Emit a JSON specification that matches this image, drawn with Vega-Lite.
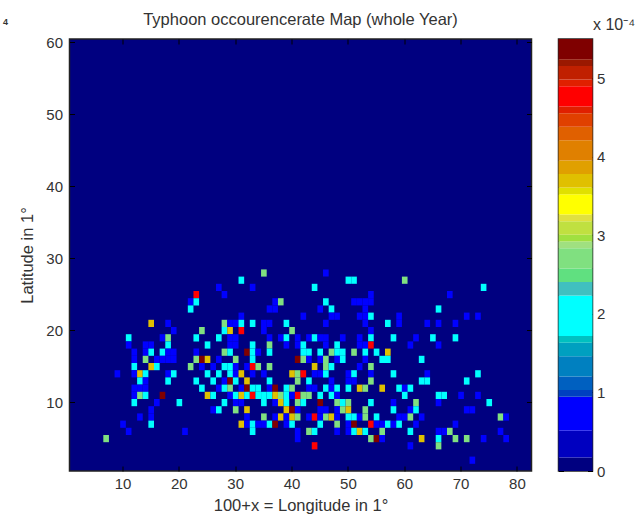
{"$schema":"https://vega.github.io/schema/vega-lite/v6.json","background":"white","padding":{"left":2.5,"top":10,"right":0,"bottom":0},"spacing":23,"title":{"text":"4","anchor":"start","frame":"bounds","fontSize":9,"font":"Liberation Sans","fontWeight":"bold","color":"#333","offset":2,"dx":-16,"dy":18},"config":{"axis":{"grid":false,"labelFont":"Liberation Sans","titleFont":"Liberation Sans","titleFontWeight":"normal","labelFontSize":15,"titleFontSize":16.5,"labelColor":"#333","titleColor":"#333","tickColor":"#000","tickSize":-5,"labelPadding":12,"domain":false,"zindex":1},"title":{"font":"Liberation Sans","fontWeight":"normal","color":"#333"}},"datasets":{"cells":[
{"lon":35,"lat":28,"v":2.7},{"lon":46,"lat":28,"v":0.75},
{"lon":31,"lat":27,"v":1.9},{"lon":50,"lat":27,"v":1.9},{"lon":51,"lat":27,"v":1.9},{"lon":60,"lat":27,"v":2.7},
{"lon":27,"lat":26,"v":0.75},{"lon":33,"lat":26,"v":0.75},{"lon":44,"lat":26,"v":1.9},{"lon":74,"lat":26,"v":1.9},
{"lon":23,"lat":25,"v":4.75},{"lon":28,"lat":25,"v":0.75},{"lon":54,"lat":25,"v":0.75},{"lon":68,"lat":25,"v":0.75},
{"lon":22,"lat":24,"v":0.75},{"lon":23,"lat":24,"v":1.9},{"lon":37,"lat":24,"v":0.75},{"lon":38,"lat":24,"v":2.7},{"lon":46,"lat":24,"v":1.9},{"lon":51,"lat":24,"v":0.75},{"lon":52,"lat":24,"v":0.75},{"lon":53,"lat":24,"v":0.75},{"lon":54,"lat":24,"v":0.75},
{"lon":22,"lat":23,"v":1.9},{"lon":36,"lat":23,"v":0.75},{"lon":37,"lat":23,"v":0.75},{"lon":45,"lat":23,"v":0.75},{"lon":47,"lat":23,"v":1.9},{"lon":53,"lat":23,"v":0.75},{"lon":66,"lat":23,"v":1.9},
{"lon":31,"lat":22,"v":0.75},{"lon":42,"lat":22,"v":0.75},{"lon":47,"lat":22,"v":0.75},{"lon":48,"lat":22,"v":0.75},{"lon":52,"lat":22,"v":0.75},{"lon":53,"lat":22,"v":0.75},{"lon":54,"lat":22,"v":1.9},{"lon":59,"lat":22,"v":0.75},{"lon":71,"lat":22,"v":0.75},{"lon":73,"lat":22,"v":0.75},
{"lon":15,"lat":21,"v":3.7},{"lon":18,"lat":21,"v":0.75},{"lon":28,"lat":21,"v":2.7},{"lon":29,"lat":21,"v":0.75},{"lon":30,"lat":21,"v":0.75},{"lon":31,"lat":21,"v":1.9},{"lon":33,"lat":21,"v":1.9},{"lon":35,"lat":21,"v":0.75},{"lon":36,"lat":21,"v":0.75},{"lon":39,"lat":21,"v":1.9},{"lon":46,"lat":21,"v":0.75},{"lon":53,"lat":21,"v":0.75},{"lon":57,"lat":21,"v":1.9},{"lon":59,"lat":21,"v":0.75},{"lon":64,"lat":21,"v":0.75},{"lon":66,"lat":21,"v":0.75},{"lon":69,"lat":21,"v":0.75},
{"lon":19,"lat":20,"v":0.75},{"lon":24,"lat":20,"v":2.7},{"lon":28,"lat":20,"v":1.9},{"lon":29,"lat":20,"v":3.7},{"lon":31,"lat":20,"v":4.75},{"lon":35,"lat":20,"v":0.75},{"lon":40,"lat":20,"v":2.7},{"lon":54,"lat":20,"v":0.75},
{"lon":11,"lat":19,"v":1.9},{"lon":17,"lat":19,"v":0.75},{"lon":18,"lat":19,"v":2.7},{"lon":23,"lat":19,"v":1.9},{"lon":27,"lat":19,"v":1.9},{"lon":29,"lat":19,"v":0.75},{"lon":30,"lat":19,"v":0.75},{"lon":36,"lat":19,"v":0.75},{"lon":38,"lat":19,"v":0.75},{"lon":39,"lat":19,"v":1.9},{"lon":41,"lat":19,"v":0.75},{"lon":43,"lat":19,"v":0.75},{"lon":44,"lat":19,"v":1.9},{"lon":45,"lat":19,"v":0.75},{"lon":46,"lat":19,"v":0.75},{"lon":49,"lat":19,"v":0.75},{"lon":52,"lat":19,"v":0.75},{"lon":54,"lat":19,"v":1.9},{"lon":58,"lat":19,"v":1.9},{"lon":62,"lat":19,"v":0.75},{"lon":65,"lat":19,"v":1.9},{"lon":69,"lat":19,"v":1.9},
{"lon":11,"lat":18,"v":0.75},{"lon":14,"lat":18,"v":0.75},{"lon":15,"lat":18,"v":0.75},{"lon":18,"lat":18,"v":1.9},{"lon":25,"lat":18,"v":1.9},{"lon":29,"lat":18,"v":0.75},{"lon":30,"lat":18,"v":0.75},{"lon":33,"lat":18,"v":1.9},{"lon":36,"lat":18,"v":2.7},{"lon":39,"lat":18,"v":0.75},{"lon":41,"lat":18,"v":0.75},{"lon":42,"lat":18,"v":1.9},{"lon":46,"lat":18,"v":0.75},{"lon":48,"lat":18,"v":1.9},{"lon":52,"lat":18,"v":0.75},{"lon":53,"lat":18,"v":0.75},{"lon":54,"lat":18,"v":4.75},{"lon":61,"lat":18,"v":0.75},{"lon":66,"lat":18,"v":0.75},
{"lon":12,"lat":17,"v":0.75},{"lon":14,"lat":17,"v":0.75},{"lon":15,"lat":17,"v":1.9},{"lon":17,"lat":17,"v":1.9},{"lon":18,"lat":17,"v":0.75},{"lon":19,"lat":17,"v":0.75},{"lon":23,"lat":17,"v":0.75},{"lon":28,"lat":17,"v":2.7},{"lon":29,"lat":17,"v":1.9},{"lon":32,"lat":17,"v":5.4},{"lon":33,"lat":17,"v":1.9},{"lon":34,"lat":17,"v":0.75},{"lon":36,"lat":17,"v":1.9},{"lon":42,"lat":17,"v":1.9},{"lon":43,"lat":17,"v":1.9},{"lon":45,"lat":17,"v":1.9},{"lon":47,"lat":17,"v":2.7},{"lon":48,"lat":17,"v":1.9},{"lon":49,"lat":17,"v":1.9},{"lon":51,"lat":17,"v":2.7},{"lon":53,"lat":17,"v":1.9},{"lon":55,"lat":17,"v":1.9},{"lon":57,"lat":17,"v":3.7},
{"lon":12,"lat":16,"v":0.75},{"lon":14,"lat":16,"v":2.7},{"lon":16,"lat":16,"v":0.75},{"lon":17,"lat":16,"v":0.75},{"lon":18,"lat":16,"v":0.75},{"lon":19,"lat":16,"v":0.75},{"lon":23,"lat":16,"v":2.7},{"lon":24,"lat":16,"v":5.4},{"lon":25,"lat":16,"v":3.7},{"lon":27,"lat":16,"v":0.75},{"lon":30,"lat":16,"v":2.7},{"lon":33,"lat":16,"v":1.9},{"lon":41,"lat":16,"v":5.4},{"lon":42,"lat":16,"v":2.7},{"lon":43,"lat":16,"v":0.75},{"lon":45,"lat":16,"v":0.75},{"lon":46,"lat":16,"v":2.7},{"lon":48,"lat":16,"v":0.75},{"lon":49,"lat":16,"v":1.9},{"lon":53,"lat":16,"v":0.75},{"lon":56,"lat":16,"v":1.9},{"lon":57,"lat":16,"v":1.9},{"lon":63,"lat":16,"v":1.9},
{"lon":12,"lat":15,"v":1.9},{"lon":15,"lat":15,"v":3.7},{"lon":16,"lat":15,"v":1.9},{"lon":22,"lat":15,"v":2.7},{"lon":24,"lat":15,"v":0.75},{"lon":26,"lat":15,"v":0.75},{"lon":28,"lat":15,"v":1.9},{"lon":29,"lat":15,"v":1.9},{"lon":30,"lat":15,"v":0.75},{"lon":32,"lat":15,"v":0.75},{"lon":33,"lat":15,"v":4.75},{"lon":34,"lat":15,"v":2.7},{"lon":36,"lat":15,"v":2.7},{"lon":44,"lat":15,"v":3.7},{"lon":46,"lat":15,"v":2.7},{"lon":47,"lat":15,"v":1.9},{"lon":52,"lat":15,"v":0.75},{"lon":54,"lat":15,"v":2.7},
{"lon":9,"lat":14,"v":0.75},{"lon":12,"lat":14,"v":0.75},{"lon":13,"lat":14,"v":3.7},{"lon":14,"lat":14,"v":1.9},{"lon":18,"lat":14,"v":0.75},{"lon":19,"lat":14,"v":1.9},{"lon":25,"lat":14,"v":1.9},{"lon":27,"lat":14,"v":1.9},{"lon":29,"lat":14,"v":1.9},{"lon":30,"lat":14,"v":0.75},{"lon":31,"lat":14,"v":3.7},{"lon":33,"lat":14,"v":0.75},{"lon":35,"lat":14,"v":0.75},{"lon":40,"lat":14,"v":3.7},{"lon":41,"lat":14,"v":2.7},{"lon":42,"lat":14,"v":4.75},{"lon":44,"lat":14,"v":0.75},{"lon":45,"lat":14,"v":0.75},{"lon":46,"lat":14,"v":1.9},{"lon":50,"lat":14,"v":0.75},{"lon":51,"lat":14,"v":1.9},{"lon":54,"lat":14,"v":0.75},{"lon":58,"lat":14,"v":1.9},{"lon":64,"lat":14,"v":0.75},{"lon":73,"lat":14,"v":1.9},
{"lon":13,"lat":13,"v":1.9},{"lon":14,"lat":13,"v":0.75},{"lon":18,"lat":13,"v":1.9},{"lon":23,"lat":13,"v":1.9},{"lon":26,"lat":13,"v":1.9},{"lon":28,"lat":13,"v":0.75},{"lon":29,"lat":13,"v":5.4},{"lon":30,"lat":13,"v":1.9},{"lon":32,"lat":13,"v":3.7},{"lon":36,"lat":13,"v":1.9},{"lon":41,"lat":13,"v":2.7},{"lon":43,"lat":13,"v":1.9},{"lon":47,"lat":13,"v":0.75},{"lon":50,"lat":13,"v":0.75},{"lon":51,"lat":13,"v":0.75},{"lon":54,"lat":13,"v":2.7},{"lon":63,"lat":13,"v":1.9},{"lon":64,"lat":13,"v":1.9},{"lon":71,"lat":13,"v":1.9},
{"lon":12,"lat":12,"v":0.75},{"lon":13,"lat":12,"v":0.75},{"lon":14,"lat":12,"v":0.75},{"lon":24,"lat":12,"v":1.9},{"lon":27,"lat":12,"v":0.75},{"lon":28,"lat":12,"v":1.9},{"lon":29,"lat":12,"v":2.7},{"lon":31,"lat":12,"v":0.75},{"lon":32,"lat":12,"v":5.4},{"lon":33,"lat":12,"v":1.9},{"lon":34,"lat":12,"v":1.9},{"lon":36,"lat":12,"v":0.75},{"lon":37,"lat":12,"v":5.4},{"lon":39,"lat":12,"v":1.9},{"lon":40,"lat":12,"v":2.7},{"lon":43,"lat":12,"v":0.75},{"lon":44,"lat":12,"v":0.75},{"lon":46,"lat":12,"v":1.9},{"lon":47,"lat":12,"v":0.75},{"lon":48,"lat":12,"v":1.9},{"lon":50,"lat":12,"v":1.9},{"lon":52,"lat":12,"v":3.7},{"lon":53,"lat":12,"v":2.7},{"lon":56,"lat":12,"v":3.7},{"lon":59,"lat":12,"v":1.9},{"lon":60,"lat":12,"v":0.75},{"lon":61,"lat":12,"v":1.9},
{"lon":12,"lat":11,"v":0.75},{"lon":13,"lat":11,"v":2.7},{"lon":14,"lat":11,"v":1.9},{"lon":17,"lat":11,"v":5.4},{"lon":25,"lat":11,"v":3.7},{"lon":26,"lat":11,"v":1.9},{"lon":29,"lat":11,"v":0.75},{"lon":30,"lat":11,"v":1.9},{"lon":31,"lat":11,"v":3.7},{"lon":32,"lat":11,"v":1.9},{"lon":33,"lat":11,"v":4.75},{"lon":34,"lat":11,"v":1.9},{"lon":35,"lat":11,"v":1.9},{"lon":36,"lat":11,"v":1.9},{"lon":37,"lat":11,"v":3.7},{"lon":38,"lat":11,"v":2.7},{"lon":39,"lat":11,"v":1.9},{"lon":40,"lat":11,"v":0.75},{"lon":41,"lat":11,"v":4.75},{"lon":42,"lat":11,"v":2.7},{"lon":43,"lat":11,"v":2.7},{"lon":45,"lat":11,"v":1.9},{"lon":47,"lat":11,"v":1.9},{"lon":48,"lat":11,"v":0.75},{"lon":60,"lat":11,"v":1.9},{"lon":66,"lat":11,"v":1.9},{"lon":67,"lat":11,"v":1.9},{"lon":70,"lat":11,"v":0.75},{"lon":73,"lat":11,"v":0.75},
{"lon":12,"lat":10,"v":1.9},{"lon":16,"lat":10,"v":0.75},{"lon":20,"lat":10,"v":1.9},{"lon":28,"lat":10,"v":1.9},{"lon":30,"lat":10,"v":0.75},{"lon":31,"lat":10,"v":0.75},{"lon":35,"lat":10,"v":1.9},{"lon":37,"lat":10,"v":0.75},{"lon":38,"lat":10,"v":3.7},{"lon":39,"lat":10,"v":1.9},{"lon":41,"lat":10,"v":2.7},{"lon":42,"lat":10,"v":1.9},{"lon":45,"lat":10,"v":5.4},{"lon":48,"lat":10,"v":2.7},{"lon":49,"lat":10,"v":1.9},{"lon":50,"lat":10,"v":2.7},{"lon":54,"lat":10,"v":1.9},{"lon":58,"lat":10,"v":0.75},{"lon":62,"lat":10,"v":2.7},{"lon":66,"lat":10,"v":0.75},{"lon":75,"lat":10,"v":1.9},
{"lon":15,"lat":9,"v":0.75},{"lon":26,"lat":9,"v":0.75},{"lon":27,"lat":9,"v":1.9},{"lon":30,"lat":9,"v":2.7},{"lon":32,"lat":9,"v":3.7},{"lon":39,"lat":9,"v":3.7},{"lon":40,"lat":9,"v":5.4},{"lon":41,"lat":9,"v":0.75},{"lon":45,"lat":9,"v":0.75},{"lon":46,"lat":9,"v":0.75},{"lon":48,"lat":9,"v":0.75},{"lon":49,"lat":9,"v":2.7},{"lon":50,"lat":9,"v":3.7},{"lon":53,"lat":9,"v":2.7},{"lon":58,"lat":9,"v":1.9},{"lon":61,"lat":9,"v":0.75},{"lon":62,"lat":9,"v":1.9},{"lon":71,"lat":9,"v":0.75},{"lon":72,"lat":9,"v":0.75},
{"lon":13,"lat":8,"v":0.75},{"lon":15,"lat":8,"v":0.75},{"lon":32,"lat":8,"v":0.75},{"lon":35,"lat":8,"v":2.7},{"lon":37,"lat":8,"v":0.75},{"lon":38,"lat":8,"v":3.7},{"lon":39,"lat":8,"v":0.75},{"lon":40,"lat":8,"v":3.7},{"lon":41,"lat":8,"v":2.7},{"lon":43,"lat":8,"v":0.75},{"lon":44,"lat":8,"v":4.75},{"lon":45,"lat":8,"v":0.75},{"lon":46,"lat":8,"v":2.7},{"lon":47,"lat":8,"v":3.7},{"lon":48,"lat":8,"v":0.75},{"lon":50,"lat":8,"v":1.9},{"lon":51,"lat":8,"v":1.9},{"lon":52,"lat":8,"v":0.75},{"lon":53,"lat":8,"v":2.7},{"lon":55,"lat":8,"v":1.9},{"lon":59,"lat":8,"v":0.75},{"lon":60,"lat":8,"v":0.75},{"lon":61,"lat":8,"v":2.7},{"lon":63,"lat":8,"v":0.75},{"lon":77,"lat":8,"v":2.7},{"lon":78,"lat":8,"v":0.75},
{"lon":10,"lat":7,"v":0.75},{"lon":15,"lat":7,"v":1.9},{"lon":31,"lat":7,"v":3.7},{"lon":32,"lat":7,"v":0.75},{"lon":33,"lat":7,"v":1.9},{"lon":34,"lat":7,"v":0.75},{"lon":35,"lat":7,"v":0.75},{"lon":36,"lat":7,"v":1.9},{"lon":37,"lat":7,"v":5.4},{"lon":39,"lat":7,"v":0.75},{"lon":40,"lat":7,"v":1.9},{"lon":45,"lat":7,"v":1.9},{"lon":48,"lat":7,"v":2.7},{"lon":50,"lat":7,"v":0.75},{"lon":51,"lat":7,"v":5.4},{"lon":54,"lat":7,"v":4.75},{"lon":55,"lat":7,"v":0.75},{"lon":56,"lat":7,"v":0.75},{"lon":57,"lat":7,"v":1.9},{"lon":58,"lat":7,"v":0.75},{"lon":59,"lat":7,"v":1.9},{"lon":62,"lat":7,"v":0.75},{"lon":69,"lat":7,"v":0.75},
{"lon":11,"lat":6,"v":0.75},{"lon":21,"lat":6,"v":0.75},{"lon":33,"lat":6,"v":1.9},{"lon":41,"lat":6,"v":0.75},{"lon":43,"lat":6,"v":2.7},{"lon":44,"lat":6,"v":1.9},{"lon":48,"lat":6,"v":0.75},{"lon":50,"lat":6,"v":0.75},{"lon":51,"lat":6,"v":1.9},{"lon":52,"lat":6,"v":3.7},{"lon":53,"lat":6,"v":1.9},{"lon":56,"lat":6,"v":2.7},{"lon":61,"lat":6,"v":1.9},{"lon":66,"lat":6,"v":0.75},{"lon":67,"lat":6,"v":0.75},{"lon":68,"lat":6,"v":2.7},{"lon":77,"lat":6,"v":0.75},
{"lon":7,"lat":5,"v":2.7},{"lon":41,"lat":5,"v":0.75},{"lon":54,"lat":5,"v":2.7},{"lon":55,"lat":5,"v":5.4},{"lon":56,"lat":5,"v":0.75},{"lon":63,"lat":5,"v":3.7},{"lon":66,"lat":5,"v":1.9},{"lon":69,"lat":5,"v":2.7},{"lon":71,"lat":5,"v":2.7},{"lon":74,"lat":5,"v":0.75},{"lon":78,"lat":5,"v":0.75},
{"lon":44,"lat":4,"v":4.75},{"lon":61,"lat":4,"v":0.75},{"lon":66,"lat":4,"v":2.7},
{"lon":72,"lat":2,"v":0.75}
],"bands":[
{"c":"a","lo":0,"hi":0.172},{"c":"a","lo":0.172,"hi":0.516},{"c":"a","lo":0.516,"hi":0.945},{"c":"a","lo":0.945,"hi":1.031},{"c":"a","lo":1.031,"hi":1.203},{"c":"a","lo":1.203,"hi":1.461},{"c":"a","lo":1.461,"hi":1.633},{"c":"a","lo":1.633,"hi":1.719},{"c":"a","lo":1.719,"hi":2.234},{"c":"a","lo":2.234,"hi":2.406},{"c":"a","lo":2.406,"hi":2.578},{"c":"a","lo":2.578,"hi":2.836},{"c":"a","lo":2.836,"hi":2.922},{"c":"a","lo":2.922,"hi":3.008},{"c":"a","lo":3.008,"hi":3.18},{"c":"a","lo":3.18,"hi":3.266},{"c":"a","lo":3.266,"hi":3.523},{"c":"a","lo":3.523,"hi":3.609},{"c":"a","lo":3.609,"hi":3.781},{"c":"a","lo":3.781,"hi":3.953},{"c":"a","lo":3.953,"hi":4.211},{"c":"a","lo":4.211,"hi":4.383},{"c":"a","lo":4.383,"hi":4.555},{"c":"a","lo":4.555,"hi":4.641},{"c":"a","lo":4.641,"hi":4.898},{"c":"a","lo":4.898,"hi":4.984},{"c":"a","lo":4.984,"hi":5.156},{"c":"a","lo":5.156,"hi":5.242},{"c":"a","lo":5.242,"hi":5.5}
]},
"hconcat":[
{"width":462,"height":432,"title":{"text":"Typhoon occourencerate Map (whole Year)","fontSize":16.5,"offset":7},"view":{"fill":"#000080","stroke":"#222","strokeWidth":1.5},
"layer":[
{"data":{"name":"cells"},"mark":{"type":"rect"},"encoding":{
"x":{"field":"lon","type":"ordinal","scale":{"domain":[1,2,3,4,5,6,7,8,9,10,11,12,13,14,15,16,17,18,19,20,21,22,23,24,25,26,27,28,29,30,31,32,33,34,35,36,37,38,39,40,41,42,43,44,45,46,47,48,49,50,51,52,53,54,55,56,57,58,59,60,61,62,63,64,65,66,67,68,69,70,71,72,73,74,75,76,77,78,79,80,81,82],"paddingInner":0,"paddingOuter":0},"axis":{"values":[10,20,30,40,50,60,70,80],"labelAngle":0,"labelPadding":10,"title":"100+x = Longitude in 1°","titlePadding":6}},
"y":{"field":"lat","type":"ordinal","scale":{"domain":[60,59,58,57,56,55,54,53,52,51,50,49,48,47,46,45,44,43,42,41,40,39,38,37,36,35,34,33,32,31,30,29,28,27,26,25,24,23,22,21,20,19,18,17,16,15,14,13,12,11,10,9,8,7,6,5,4,3,2,1],"paddingInner":0,"paddingOuter":0},"axis":{"values":[10,20,30,40,50,60],"title":"Latitude in 1°","titlePadding":10}},
"color":{"field":"v","type":"quantitative","legend":null,"scale":{"type":"threshold","domain":[0.172,0.516,0.945,1.031,1.203,1.461,1.633,1.719,2.234,2.406,2.578,2.836,2.922,3.008,3.18,3.266,3.523,3.609,3.781,3.953,4.211,4.383,4.555,4.641,4.898,4.984,5.156,5.242],"range":["#000080","#0000C0","#0000FF","#0040C0","#0060C0","#0080C0","#00A0C0","#00C0C0","#00FFFF","#40C0C0","#60E080","#80E080","#A0E080","#A0E040","#C0E040","#E0E040","#FFFF00","#E0E000","#E0C000","#E0A000","#E08000","#E06000","#E04000","#E02000","#FF0000","#E02000","#C02000","#9A1800","#7F0000"]}}}},
{"data":{"values":[{"lon":1,"lat":60}]},"mark":{"type":"rect","opacity":0},"encoding":{
"x":{"field":"lon","type":"ordinal","axis":{"orient":"top","values":[10,20,30,40,50,60,70,80],"labels":false,"title":null}},
"y":{"field":"lat","type":"ordinal","axis":{"orient":"right","values":[10,20,30,40,50,60],"labels":false,"title":null}}}}
],"resolve":{"axis":{"x":"independent","y":"independent"}}},
{"width":34,"height":432,"title":{"text":"x 10⁻⁴","fontSize":16,"anchor":"start","dx":35,"offset":6},"view":{"stroke":"#222","strokeWidth":1.5},
"layer":[
{"data":{"name":"bands"},"mark":{"type":"rect"},"encoding":{
"x":{"field":"c","type":"nominal","axis":null,"scale":{"paddingInner":0,"paddingOuter":0}},
"y":{"field":"lo","type":"quantitative","scale":{"domain":[0,5.5],"nice":false},"axis":{"orient":"right","values":[0,1,2,3,4,5],"title":null,"labelPadding":9}},
"y2":{"field":"hi"},
"color":{"field":"lo","type":"quantitative","legend":null,"scale":{"type":"threshold","domain":[0.172,0.516,0.945,1.031,1.203,1.461,1.633,1.719,2.234,2.406,2.578,2.836,2.922,3.008,3.18,3.266,3.523,3.609,3.781,3.953,4.211,4.383,4.555,4.641,4.898,4.984,5.156,5.242],"range":["#000080","#0000C0","#0000FF","#0040C0","#0060C0","#0080C0","#00A0C0","#00C0C0","#00FFFF","#40C0C0","#60E080","#80E080","#A0E080","#A0E040","#C0E040","#E0E040","#FFFF00","#E0E000","#E0C000","#E0A000","#E08000","#E06000","#E04000","#E02000","#FF0000","#E02000","#C02000","#9A1800","#7F0000"]}}}},
{"data":{"values":[{"c":"a","lo":0,"hi":0}]},"mark":{"type":"rect","opacity":0},"encoding":{
"x":{"field":"c","type":"nominal","axis":null},
"y":{"field":"lo","type":"quantitative","axis":{"orient":"left","values":[0,1,2,3,4,5],"labels":false,"title":null}},"y2":{"field":"hi"}}}
],"resolve":{"axis":{"y":"independent"}}}
]}
